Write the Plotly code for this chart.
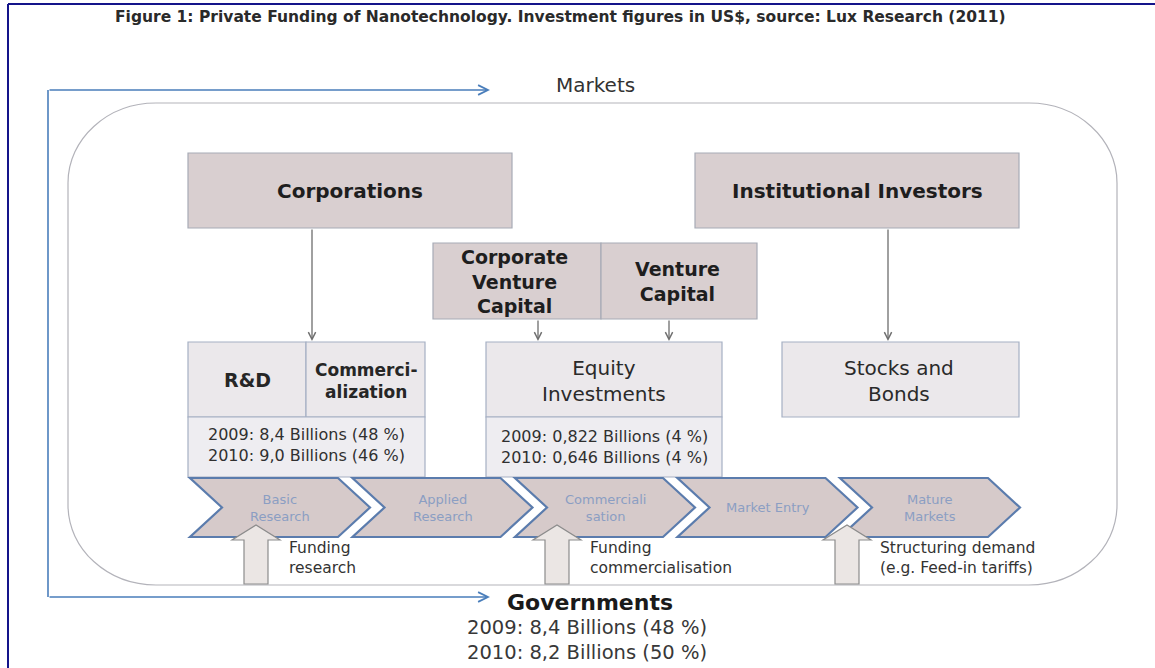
import plotly.graph_objects as go

# ---------------- data (labels and figures) ----------------
title_text = "Figure 1: Private Funding of Nanotechnology. Investment figures in US$, source: Lux Research (2011)"
market_label = "Markets"
government_label = "Governments"
investor_labels = ["Corporations", "Institutional Investors"]
venture_labels = ["Corporate<br>Venture<br>Capital", "Venture<br>Capital"]
vehicle_labels = ["R&D", "Commerci-<br>alization", "Equity<br>Investments", "Stocks and<br>Bonds"]
stage_labels = ["Basic<br>Research", "Applied<br>Research", "Commerciali<br>sation", "Market Entry", "Mature<br>Markets"]
gov_roles = ["Funding<br>research", "Funding<br>commercialisation", "Structuring demand<br>(e.g. Feed-in tariffs)"]
years = ["2009", "2010"]
rd_billions = ["8,4", "9,0"]
rd_share = [48, 46]
equity_billions = ["0,822", "0,646"]
equity_share = [4, 4]
gov_billions = ["8,4", "8,2"]
gov_share = [48, 50]


def figure_lines(bn, share):
    return "<br>".join(f"{y}: {b} Billions ({s} %)" for y, b, s in zip(years, bn, share))


# ---------------- layout helpers ----------------
W, H = 1155, 668
fig = go.Figure()
shapes, anns = [], []
FONT = "DejaVu Sans"

TOP_FILL, TOP_LINE = "#d9cfd0", "#a7abb6"
LOW_FILL, LOW_LINE = "#ebe8eb", "#a6b0c4"
CHEV_FILL, CHEV_LINE = "#d6caca", "#5b7cad"
BLUE = "#4a7ebb"
GREY_ARROW = "#6e6e6e"


def rect(x0, y0, x1, y1, fill, line, lw=1.2):
    shapes.append(dict(type="rect", xref="x", yref="y", x0=x0, y0=y0, x1=x1, y1=y1,
                       fillcolor=fill, line=dict(color=line, width=lw), layer="above"))


def path(d, fill=None, line="#000", lw=1.0):
    s = dict(type="path", xref="x", yref="y", path=d, line=dict(color=line, width=lw), layer="above")
    if fill:
        s["fillcolor"] = fill
    shapes.append(s)


def text(x, y, s, size, color="#222222", bold=False, xanchor="center", align="center", family=FONT):
    anns.append(dict(x=x, y=y, xref="x", yref="y", text=f"<b>{s}</b>" if bold else s,
                     showarrow=False, font=dict(family=family, size=size, color=color),
                     xanchor=xanchor, yanchor="middle", align=align))


def arrow(x0, y0, x1, y1, color, width, head=5, size=1.0):
    anns.append(dict(x=x1, y=y1, ax=x0, ay=y0, xref="x", yref="y", axref="x", ayref="y",
                     text="", showarrow=True, arrowhead=head, arrowsize=size, arrowwidth=width,
                     arrowcolor=color, standoff=0, startstandoff=0))


def rrect_path(x0, y0, x1, y1, rx, ry):
    k = 0.5523
    return (f"M{x0+rx},{y0} L{x1-rx},{y0} C{x1-rx+k*rx},{y0} {x1},{y0+ry-k*ry} {x1},{y0+ry} "
            f"L{x1},{y1-ry} C{x1},{y1-ry+k*ry} {x1-rx+k*rx},{y1} {x1-rx},{y1} "
            f"L{x0+rx},{y1} C{x0+rx-k*rx},{y1} {x0},{y1-ry+k*ry} {x0},{y1-ry} "
            f"L{x0},{y0+ry} C{x0},{y0+ry-k*ry} {x0+rx-k*rx},{y0} {x0+rx},{y0} Z")


# ---------------- frame ----------------
shapes.append(dict(type="line", xref="x", yref="y", x0=8, y0=4, x1=W, y1=4,
                   line=dict(color="#14148a", width=2)))
shapes.append(dict(type="line", xref="x", yref="y", x0=8, y0=4, x1=8, y1=H,
                   line=dict(color="#14148a", width=2)))

text(560, 17, title_text, 15.5, "#2a2a2a", bold=True)

# ---------------- markets rounded frame ----------------
path(rrect_path(68, 103, 1117, 585, 88, 80), fill=None, line="#b3b3ba", lw=1.2)

# blue governance loop
path("M48,90 L48,597", line=BLUE, lw=1.6)
arrow(48, 90, 490, 90, BLUE, 1.6, head=5, size=1.2)
arrow(48, 597, 490, 597, BLUE, 1.6, head=5, size=1.2)
text(595, 85, market_label, 20, "#333333")

# ---------------- investor boxes ----------------
rect(188, 153, 512, 228, TOP_FILL, TOP_LINE)
rect(695, 153, 1019, 228, TOP_FILL, TOP_LINE)
text(350, 191, investor_labels[0], 20, "#1e1e1e", bold=True)
text(857, 191, investor_labels[1], 20, "#1e1e1e", bold=True)

rect(433, 243, 601, 319, TOP_FILL, TOP_LINE)
rect(601, 243, 757, 319, TOP_FILL, TOP_LINE)
text(514, 281, venture_labels[0], 19, "#1e1e1e", bold=True)
text(677, 281, venture_labels[1], 19, "#1e1e1e", bold=True)

# ---------------- vehicle boxes ----------------
rect(188, 342, 306, 417, LOW_FILL, LOW_LINE)
rect(306, 342, 425, 417, LOW_FILL, LOW_LINE)
rect(188, 417, 425, 477, "#eeedf1", LOW_LINE)
rect(486, 342, 722, 417, LOW_FILL, LOW_LINE)
rect(486, 417, 722, 477, "#eeedf1", LOW_LINE)
rect(782, 342, 1019, 417, LOW_FILL, LOW_LINE)

text(247, 380, vehicle_labels[0], 19, "#262626", bold=True)
text(366, 381, vehicle_labels[1], 17, "#262626", bold=True)
text(604, 381, vehicle_labels[2], 20, "#2a2a2a")
text(899, 381, vehicle_labels[3], 20, "#2a2a2a")

text(306, 445, figure_lines(rd_billions, rd_share), 16, "#303030")
text(604, 447, figure_lines(equity_billions, equity_share), 16, "#303030")

# grey feed arrows
arrow(312, 228, 312, 341, GREY_ARROW, 1.3, head=5, size=1.1)
arrow(538, 319, 538, 341, GREY_ARROW, 1.3, head=5, size=1.1)
arrow(669, 319, 669, 341, GREY_ARROW, 1.3, head=5, size=1.1)
arrow(888, 228, 888, 341, GREY_ARROW, 1.3, head=5, size=1.1)

# ---------------- value chain chevrons ----------------
chev_top, chev_bot = 478, 537
chev_mid = (chev_top + chev_bot) / 2
for i, lab in enumerate(stage_labels):
    x0 = 190 + 162.5 * i
    d = (f"M{x0},{chev_top} L{x0+148},{chev_top} L{x0+180},{chev_mid} L{x0+148},{chev_bot} "
         f"L{x0},{chev_bot} L{x0+32},{chev_mid} Z")
    path(d, fill=CHEV_FILL, line=CHEV_LINE, lw=2.2)
    text(x0 + 90, chev_mid, lab, 13, "#8b9ec3")

# ---------------- government block arrows ----------------
arrow_centres = [256, 557, 847]
for cx, role in zip(arrow_centres, gov_roles):
    d = (f"M{cx-12},584 L{cx-12},540 L{cx-24},540 L{cx},525 L{cx+24},540 "
         f"L{cx+12},540 L{cx+12},584 Z")
    path(d, fill="#ebe6e4", line="#8c8c8c", lw=1.2)
    text(cx + 31, 558, role, 15.5, "#333333", xanchor="left", align="left")

text(590, 602, government_label, 22, "#1a1a1a", bold=True)
text(587, 640, figure_lines(gov_billions, gov_share), 19.5, "#383838")

# ---------------- figure ----------------
fig.add_trace(go.Scatter(x=[0], y=[0], mode="markers", marker=dict(opacity=0),
                         hoverinfo="skip", showlegend=False))
fig.update_layout(
    width=W, height=H, autosize=False,
    margin=dict(l=0, r=0, t=0, b=0),
    paper_bgcolor="white", plot_bgcolor="white",
    xaxis=dict(range=[0, W], visible=False, fixedrange=True),
    yaxis=dict(range=[H, 0], visible=False, fixedrange=True),
    shapes=shapes, annotations=anns, showlegend=False,
)
fig.write_html("out.html", config={"displayModeBar": False},
               post_script="document.body.style.margin='0';document.body.style.overflow='hidden';")
